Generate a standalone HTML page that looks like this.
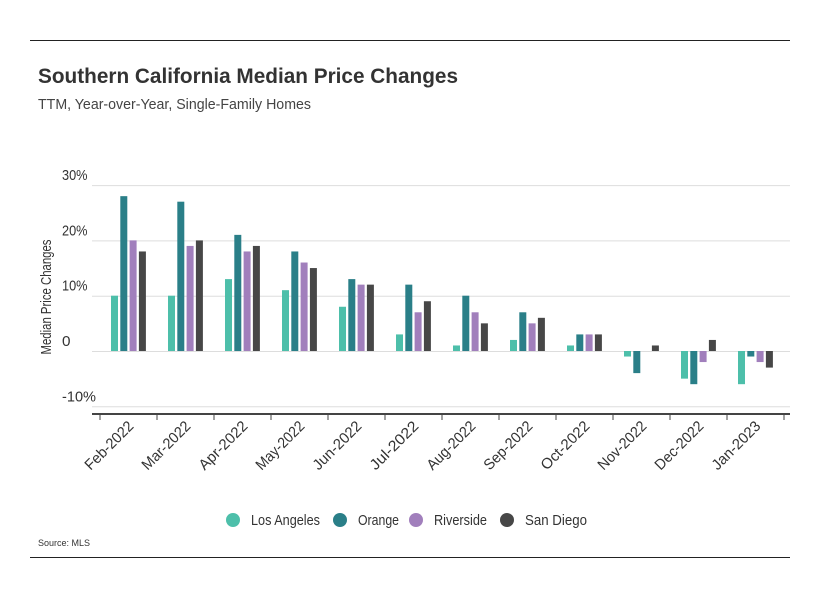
<!DOCTYPE html>
<html><head><meta charset="utf-8"><style>
body{margin:0;background:#fff;font-family:"Liberation Sans",sans-serif;}
svg text{font-family:"Liberation Sans",sans-serif;}
</style></head><body>
<svg width="816" height="593" id="c">
<line x1="30" y1="40.5" x2="790" y2="40.5" stroke="#222"/>
<line x1="30" y1="557.5" x2="790" y2="557.5" stroke="#222"/>
<text x="38" y="83" font-size="21" font-weight="bold" fill="#333" textLength="420" lengthAdjust="spacingAndGlyphs">Southern California Median Price Changes</text>
<text x="38" y="109" font-size="15" fill="#444" textLength="273" lengthAdjust="spacingAndGlyphs">TTM, Year-over-Year, Single-Family Homes</text>
<text transform="translate(51,297) rotate(-90)" text-anchor="middle" font-size="15" fill="#333" textLength="115" lengthAdjust="spacingAndGlyphs">Median Price Changes</text>
<text x="38" y="546" font-size="9" fill="#333">Source: MLS</text>
<g id="grid"></g><g id="bars"></g><g id="xaxis"></g><g id="legend"></g>
</svg>
<script>
const categories=["Feb-2022","Mar-2022","Apr-2022","May-2022","Jun-2022","Jul-2022","Aug-2022","Sep-2022","Oct-2022","Nov-2022","Dec-2022","Jan-2023"];
const seriesNames=["Los Angeles","Orange","Riverside","San Diego"];
const losAngeles=[10,10,13,11,8,3,1,2,1,-1,-5,-6];
const orange=[28,27,21,18,13,12,10,7,3,-4,-6,-1];
const riverside=[20,19,18,16,12,7,7,5,3,0,-2,-2];
const sanDiego=[18,20,19,15,12,9,5,6,3,1,2,-3];
const yTicks=[-10,0,10,20,30];
const yTickLabels=["-10%","0","10%","20%","30%"];
const colors=["#4dbfaa","#2a7f88","#a17fbc","#474747"];
const ns="http://www.w3.org/2000/svg";
const y=v=>351-v*5.53;
const x0=i=>100+i*57;
function mk(t,a,p){const e=document.createElementNS(ns,t);for(const k in a)e.setAttribute(k,a[k]);p.appendChild(e);return e;}
const grid=document.getElementById('grid');
yTicks.forEach((t,i)=>{
 const l=mk('line',{x1:92,x2:790,y1:y(t)+0.5,y2:y(t)+0.5,stroke:'#ddd'},grid);
 
 
 const lab=yTickLabels[i];
 const tx=mk('text',{x:62,y:y(t)-5,'font-size':15,fill:'#333',textLength:lab.length*8.5,lengthAdjust:'spacingAndGlyphs'},grid);tx.textContent=lab;
 
 
});
const bars=document.getElementById('bars');
const all=[losAngeles,orange,riverside,sanDiego];
all.forEach((s,si)=>s.forEach((v,i)=>{
 const bx=x0(i)+11+si*9.3;
 const r=mk('rect',{x:bx,width:7,y:Math.min(y(v),y(0)),height:Math.max(Math.abs(y(v)-y(0)),0.01),fill:colors[si]},bars);
 
 
}));
const xa=document.getElementById('xaxis');
const ax=mk('line',{x1:92,x2:790,y1:414,y2:414,stroke:'#444','stroke-width':2},xa);


for(let i=0;i<=categories.length;i++){mk('line',{x1:x0(i),x2:x0(i),y1:414,y2:420,stroke:'#444'},xa);}
categories.forEach((c,i)=>{
 const cx=x0(i)+28.5;
 const t=mk('text',{transform:`translate(${cx+6},${427}) rotate(-45)`,'text-anchor':'end','font-size':15,fill:'#333',textLength:62,lengthAdjust:'spacingAndGlyphs'},xa);t.textContent=c;
 
 
});
const lg=document.getElementById('legend');
const lx=[233,340,416,507];
const lw=[69,41,53,62];
seriesNames.forEach((n,i)=>{
 const g=mk('g',{},lg);
 
 
 mk('circle',{cx:lx[i],cy:520,r:7,fill:colors[i]},g);
 const t=mk('text',{x:lx[i]+18,y:525,'font-size':15,fill:'#333',textLength:lw[i],lengthAdjust:'spacingAndGlyphs'},g);t.textContent=n;
});
</script>
</body></html>
